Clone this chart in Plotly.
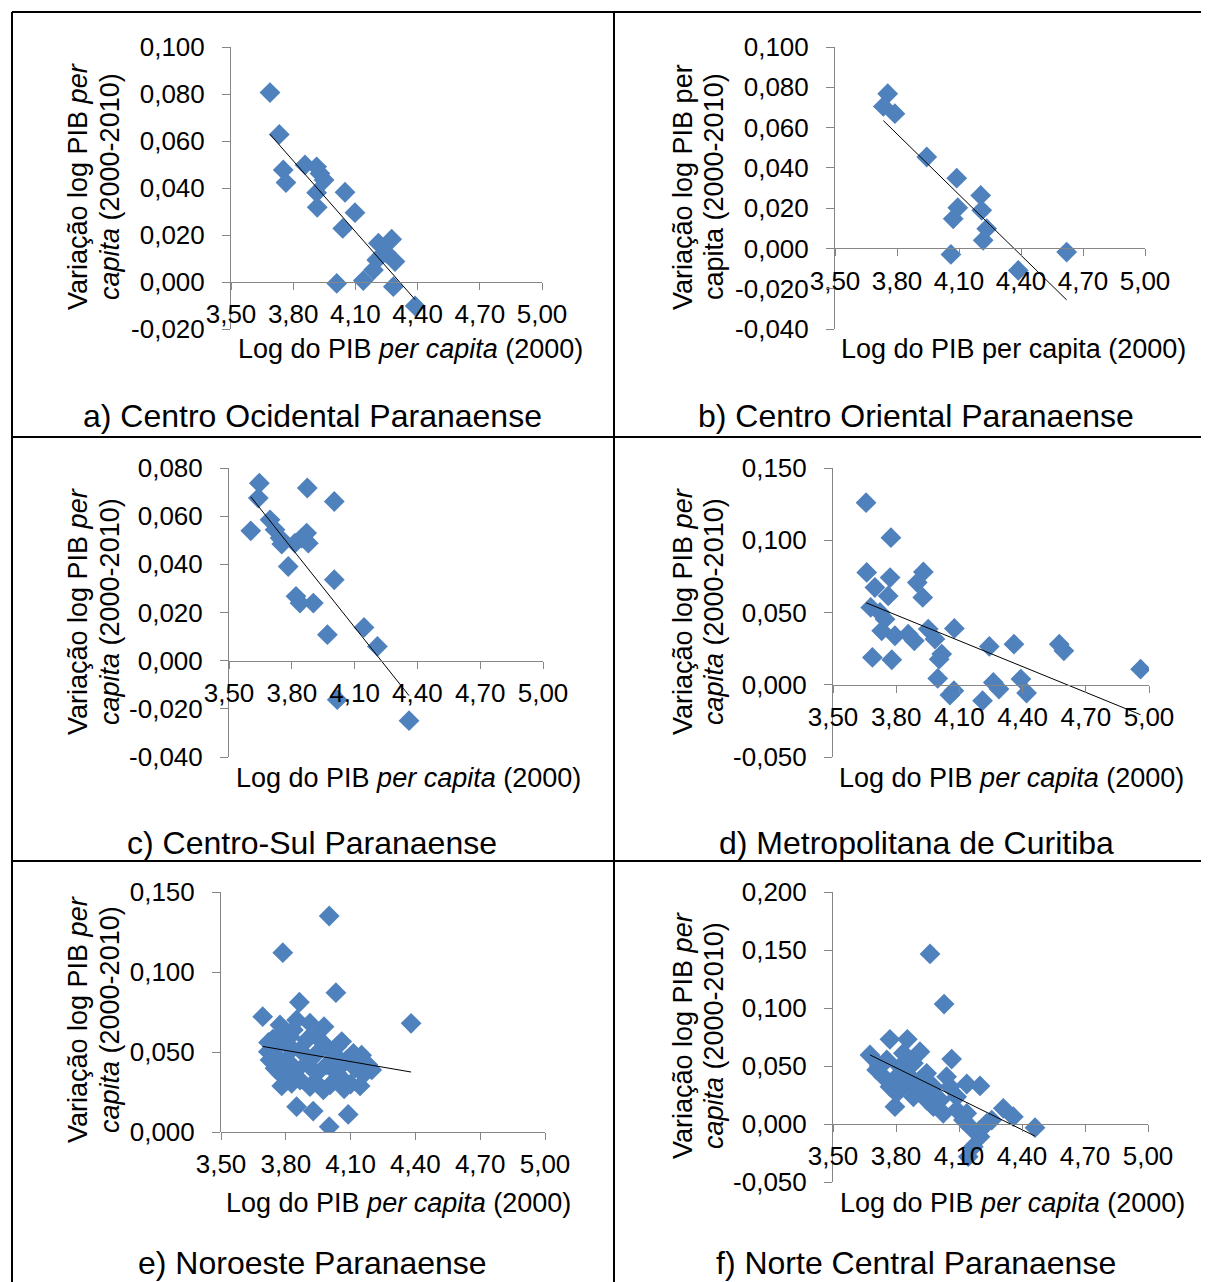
import numpy as np
import plotly.graph_objects as go

# the page body has an 8px margin: the figure is sized so it ends at the window edge
OFF = 8
W, H = 1209 - OFF, 1282 - OFF

# ---------------- data ----------------
a_x = [3.688, 3.733, 3.752, 3.765, 3.857, 3.913, 3.929, 3.949, 3.913, 3.916, 4.050, 4.098, 4.039,
       4.211, 4.275, 4.251, 4.203, 4.291, 4.187, 4.138, 4.010, 4.283, 4.388]
a_y = [0.0806, 0.0628, 0.0477, 0.0423, 0.0498, 0.0490, 0.0462, 0.0434, 0.0380, 0.0318, 0.0382, 0.0295, 0.0228,
       0.0165, 0.0182, 0.0122, 0.0094, 0.0087, 0.0051, 0.0006, -0.0006, -0.0020, -0.0102]

b_x = [3.755, 3.734, 3.790, 3.944, 4.089, 4.205, 4.094, 4.210, 4.072, 4.234, 4.217, 4.061, 4.387, 4.621]
b_y = [0.0768, 0.0705, 0.0669, 0.0454, 0.0349, 0.0263, 0.0202, 0.0189, 0.0147, 0.0098, 0.0040, -0.0030, -0.0109, -0.0018]

c_x = [3.645, 3.640, 3.604, 3.696, 3.720, 3.744, 3.752, 3.874, 4.003, 3.871, 3.847, 3.879, 3.815, 3.783,
       4.003, 3.820, 3.839, 3.903, 3.970, 4.145, 4.209, 4.017, 4.360]
c_y = [0.0737, 0.0675, 0.0539, 0.0585, 0.0544, 0.0509, 0.0484, 0.0717, 0.0661, 0.0530, 0.0509, 0.0488, 0.0488, 0.0391,
       0.0336, 0.0267, 0.0239, 0.0239, 0.0108, 0.0138, 0.0059, -0.0162, -0.0249]

d_x = [3.657, 3.775, 3.660, 3.771, 3.929, 3.900, 3.699, 3.762, 3.926, 3.679, 3.723, 3.747, 3.731, 3.794, 3.857, 3.886,
       3.952, 3.984, 4.076, 4.016, 4.004, 3.687, 3.779, 3.997, 4.055, 4.074, 4.210, 4.242, 4.261, 4.288, 4.359, 4.392,
       4.419, 4.574, 4.596, 4.960]
d_y = [0.1260, 0.1018, 0.0777, 0.0742, 0.0781, 0.0707, 0.0673, 0.0615, 0.0604, 0.0535, 0.0500, 0.0454, 0.0373, 0.0339,
       0.0350, 0.0304, 0.0385, 0.0316, 0.0390, 0.0212, 0.0177, 0.0189, 0.0173, 0.0044, -0.0071, -0.0041, -0.0110, 0.0265,
       0.0016, -0.0030, 0.0281, 0.0039, -0.0057, 0.0281, 0.0235, 0.0108]

e_x = [4.001, 3.786, 4.032, 3.863, 3.693, 4.380, 3.773, 3.850, 3.977, 3.850, 3.927, 4.001, 4.089, 4.144, 3.781, 4.151,
       4.198, 4.059, 3.719, 3.750, 3.804, 3.866, 3.935, 4.005, 4.036, 4.082, 3.897, 3.943, 3.819, 3.758, 3.866, 3.943,
       4.020, 3.804, 3.897, 3.989, 4.051, 3.773, 3.850, 3.943, 4.066, 3.835, 3.912, 4.036, 4.113, 3.727, 3.974, 3.827,
       3.912, 3.974, 3.740, 3.780, 3.800, 3.760, 3.830, 3.720, 4.100, 4.160, 4.120, 4.070, 4.180]
e_y = [0.1350, 0.1121, 0.0871, 0.0811, 0.0721, 0.0679, 0.0669, 0.0700, 0.0658, 0.0158, 0.0131, 0.0033, 0.0110, 0.0288,
       0.0288, 0.0480, 0.0388, 0.0565, 0.0502, 0.0398, 0.0346, 0.0325, 0.0315, 0.0294, 0.0367, 0.0450, 0.0575, 0.0596,
       0.0596, 0.0533, 0.0513, 0.0492, 0.0492, 0.0450, 0.0429, 0.0419, 0.0408, 0.0367, 0.0388, 0.0367, 0.0325, 0.0638,
       0.0680, 0.0533, 0.0492, 0.0450, 0.0554, 0.0304, 0.0283, 0.0263, 0.0580, 0.0620, 0.0550, 0.0470, 0.0520, 0.0560,
       0.0300, 0.0360, 0.0400, 0.0270, 0.0420]

f_x = [3.962, 4.029, 3.676, 3.771, 3.854, 3.914, 4.065, 4.200, 4.137, 3.795, 4.311, 4.359, 4.462, 4.256, 4.200, 4.168,
       4.144, 3.708, 3.756, 3.740, 3.819, 3.787, 3.851, 3.803, 3.883, 3.899, 3.946, 3.978, 3.883, 4.010, 4.025, 4.089,
       4.057, 4.089, 4.137, 4.152, 4.200, 3.978, 3.930, 4.041, 3.835, 3.771, 3.867, 3.914, 3.946, 4.232, 4.121, 3.720]
f_y = [0.1466, 0.1034, 0.0595, 0.0730, 0.0730, 0.0623, 0.0560, 0.0328, 0.0345, 0.0149, 0.0135, 0.0063, -0.0032, 0.0034,
       -0.0109, -0.0196, -0.0282, 0.0466, 0.0552, 0.0408, 0.0494, 0.0379, 0.0351, 0.0265, 0.0523, 0.0322, 0.0437, 0.0322,
       0.0235, 0.0207, 0.0092, 0.0235, 0.0322, 0.0121, 0.0092, -0.0023, -0.0052, 0.0149, 0.0265, 0.0408, 0.0610, 0.0322,
       0.0408, 0.0379, 0.0207, 0.0006, 0.0034, 0.0500]

x_tickvals = [3.5, 3.8, 4.1, 4.4, 4.7, 5.0]
x_ticktext = ["3,50", "3,80", "4,10", "4,40", "4,70", "5,00"]

yt_a = [-0.02, 0.0, 0.02, 0.04, 0.06, 0.08, 0.10]
yl_a = ["-0,020", "0,000", "0,020", "0,040", "0,060", "0,080", "0,100"]
yt_b = [-0.04, -0.02, 0.0, 0.02, 0.04, 0.06, 0.08, 0.10]
yl_b = ["-0,040", "-0,020", "0,000", "0,020", "0,040", "0,060", "0,080", "0,100"]
yt_c = [-0.04, -0.02, 0.0, 0.02, 0.04, 0.06, 0.08]
yl_c = ["-0,040", "-0,020", "0,000", "0,020", "0,040", "0,060", "0,080"]
yt_d = [-0.05, 0.0, 0.05, 0.10, 0.15]
yl_d = ["-0,050", "0,000", "0,050", "0,100", "0,150"]
yt_e = [0.0, 0.05, 0.10, 0.15]
yl_e = ["0,000", "0,050", "0,100", "0,150"]
yt_f = [-0.05, 0.0, 0.05, 0.10, 0.15, 0.20]
yl_f = ["-0,050", "0,000", "0,050", "0,100", "0,150", "0,200"]

captions = ["a) Centro Ocidental Paranaense", "b) Centro Oriental Paranaense",
            "c) Centro-Sul Paranaense", "d) Metropolitana de Curitiba",
            "e) Noroeste Paranaense", "f) Norte Central Paranaense"]

# ---------------- layout helpers (window pixels -> paper fractions) ----------------
def fx(px):
    return (px - OFF) / W

def fy(py):
    return 1 - (py - OFF) / H

FONT = "Liberation Sans, Arial, sans-serif"
BLUE = "#4F81BD"
AX = "#868686"

panels = [
    dict(x=a_x, y=a_y, yt=yt_a, yl=yl_a, box=(231, 542, 47, 329), yr=(-0.02, 0.10), ital=True,
         ytx=(78, 110, 187), xt=(410, 349), cap=(312, 416)),
    dict(x=b_x, y=b_y, yt=yt_b, yl=yl_b, box=(835, 1145, 47, 329), yr=(-0.04, 0.10), ital=False,
         ytx=(683, 714, 187), xt=(1013, 349), cap=(916, 416)),
    dict(x=c_x, y=c_y, yt=yt_c, yl=yl_c, box=(229, 543, 468, 757), yr=(-0.04, 0.08), ital=True,
         ytx=(78, 110, 612), xt=(408, 778), cap=(312, 843)),
    dict(x=d_x, y=d_y, yt=yt_d, yl=yl_d, box=(833, 1149, 468, 757), yr=(-0.05, 0.15), ital=True,
         ytx=(683, 714, 612), xt=(1011, 778), cap=(916, 843)),
    dict(x=e_x, y=e_y, yt=yt_e, yl=yl_e, box=(221, 545, 892, 1132), yr=(0.0, 0.15), ital=True,
         ytx=(78, 110, 1020), xt=(398, 1203), cap=(312, 1263)),
    dict(x=f_x, y=f_y, yt=yt_f, yl=yl_f, box=(833, 1148, 892, 1182), yr=(-0.05, 0.20), ital=True,
         ytx=(683, 714, 1036), xt=(1012, 1203), cap=(916, 1263)),
]

fig = go.Figure()
annotations = []
layout_axes = {}

for i, p in enumerate(panels, start=1):
    xn = "x" if i == 1 else f"x{i}"
    yn = "y" if i == 1 else f"y{i}"
    xk = "xaxis" if i == 1 else f"xaxis{i}"
    yk = "yaxis" if i == 1 else f"yaxis{i}"
    l, r, t, b = p["box"]
    ymin, ymax = p["yr"]
    yd0, yd1 = fy(b), fy(t)
    zero_pos = yd0 + (0 - ymin) / (ymax - ymin) * (yd1 - yd0)

    xs = np.array(p["x"]); ys = np.array(p["y"])
    fig.add_trace(go.Scatter(x=xs, y=ys, mode="markers", xaxis=xn, yaxis=yn,
                             marker=dict(symbol="diamond", size=16, color=BLUE, line=dict(width=0)),
                             showlegend=False, hoverinfo="skip"))
    slope, icpt = np.polyfit(xs, ys, 1)
    lx = np.array([xs.min(), xs.max()])
    fig.add_trace(go.Scatter(x=lx, y=slope * lx + icpt, mode="lines", xaxis=xn, yaxis=yn,
                             line=dict(color="#000000", width=1), showlegend=False, hoverinfo="skip"))

    layout_axes[xk] = dict(domain=[fx(l), fx(r)], range=[3.5, 5.0], anchor="free", position=zero_pos,
                           showline=True, linecolor=AX, linewidth=1, ticks="outside", ticklen=7,
                           tickcolor=AX, tickvals=x_tickvals, ticktext=x_ticktext, showgrid=False,
                           zeroline=False, tickfont=dict(family=FONT, size=26, color="#000"),
                           ticklabelstandoff=2, fixedrange=True, automargin=False)
    layout_axes[yk] = dict(domain=[yd0, yd1], range=[ymin, ymax], anchor=xn, showline=True,
                           linecolor=AX, linewidth=1, ticks="outside", ticklen=8, tickcolor=AX,
                           tickvals=p["yt"], ticktext=p["yl"], showgrid=False, zeroline=False,
                           tickfont=dict(family=FONT, size=26, color="#000"), ticklabelstandoff=12,
                           fixedrange=True, automargin=False)

    per = "<i>per</i>" if p["ital"] else "per"
    cap_ = "<i>capita</i>" if p["ital"] else "capita"
    percap = "<i>per capita</i>" if p["ital"] else "per capita"
    x1, x2, yc = p["ytx"]
    annotations.append(dict(text=f"Variação log PIB {per}", x=fx(x1), y=fy(yc), textangle=-90))
    annotations.append(dict(text=f"{cap_} (2000-2010)", x=fx(x2), y=fy(yc), textangle=-90))
    annotations.append(dict(text=f"Log do PIB {percap} (2000)", x=fx(p["xt"][0]), y=fy(p["xt"][1])))
    annotations.append(dict(text=captions[i - 1], x=fx(p["cap"][0]), y=fy(p["cap"][1]),
                            font=dict(family=FONT, size=32, color="#000")))

for a in annotations:
    a.setdefault("font", dict(family=FONT, size=27, color="#000"))
    a.update(xref="paper", yref="paper", xanchor="center", yanchor="middle", showarrow=False)

shapes = []
def hline(py, x0=12, x1=1209):
    shapes.append(dict(type="line", xref="paper", yref="paper", x0=fx(x0), x1=fx(x1), y0=fy(py), y1=fy(py),
                       line=dict(color="#000", width=2)))
def vline(px, y0=12, y1=1282):
    shapes.append(dict(type="line", xref="paper", yref="paper", x0=fx(px), x1=fx(px), y0=fy(y0), y1=fy(y1),
                       line=dict(color="#000", width=2)))
hline(12); hline(437); hline(861)
vline(12); vline(614)

fig.update_layout(width=W, height=H, margin=dict(l=0, r=0, t=0, b=0, pad=0, autoexpand=False),
                  paper_bgcolor="white", plot_bgcolor="white", showlegend=False,
                  annotations=annotations, shapes=shapes,
                  font=dict(family=FONT, color="#000"), **layout_axes)

fig.write_html("out.html", config=dict(displayModeBar=False))
